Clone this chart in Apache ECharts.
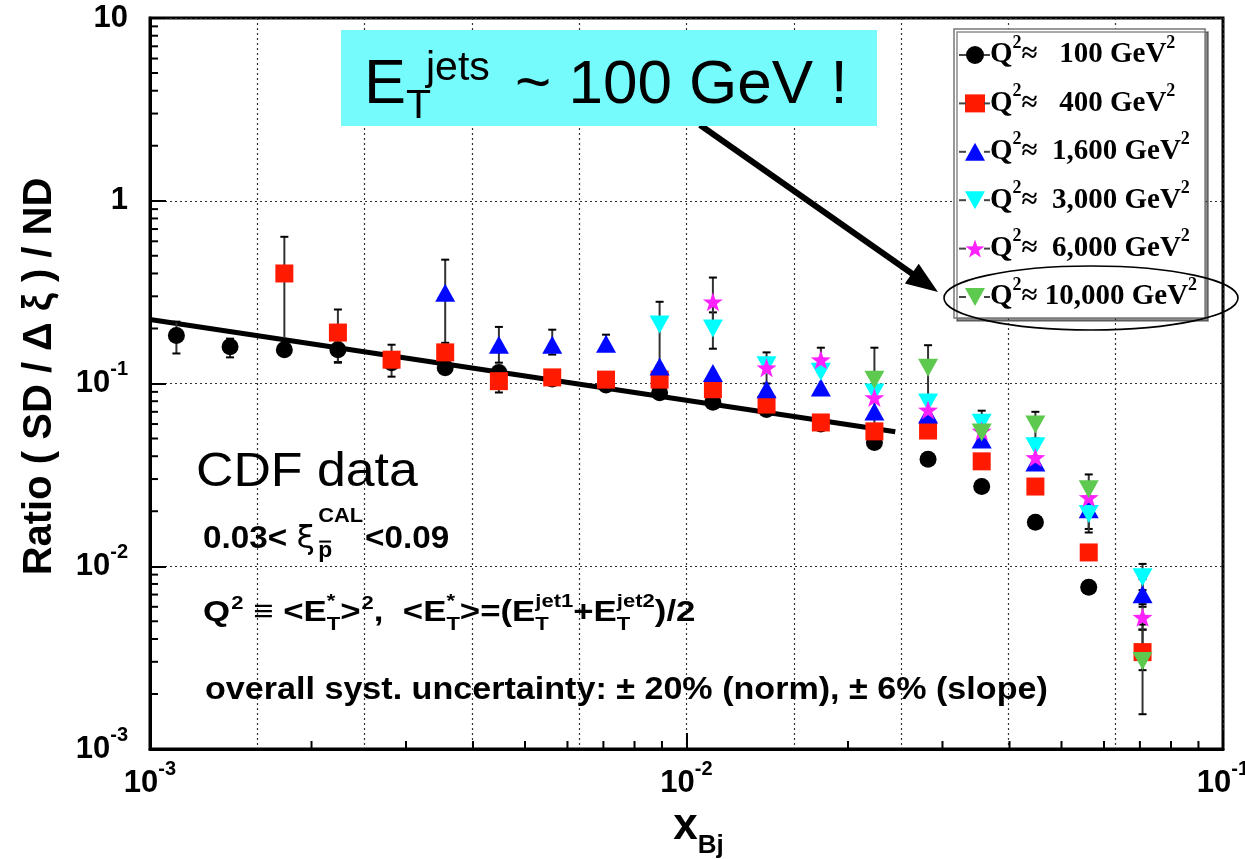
<!DOCTYPE html>
<html>
<head>
<meta charset="utf-8">
<title>CDF diffractive / non-diffractive ratio vs x_Bj</title>
<script src="https://cdn.jsdelivr.net/npm/echarts@6/dist/echarts.min.js"></script>
<style>
  html, body { margin: 0; padding: 0; background: #ffffff; }
  #chart { width: 1245px; height: 859px; }
</style>
</head>
<body>
<div id="chart"></div>
<script>
// ---- data -------------------------------------------------------------
const N = null;

// x_Bj bin centres (log-spaced, 0.1 decade)
const xBj = [0.00112, 0.00141, 0.00178, 0.00224, 0.00282, 0.00355, 0.00447, 0.00562, 0.00708, 0.00891,
             0.0112, 0.0141, 0.0178, 0.0224, 0.0282, 0.0355, 0.0447, 0.0562, 0.0708];

// Ratio SD/ND per Q^2 bin, with error bar bounds (null = no visible bar)
const ratioQ100   = [0.183, 0.159, 0.153, 0.153, 0.130, 0.122, 0.115, 0.106, 0.098, 0.089, 0.079, 0.072, 0.060, 0.0476, 0.0385, 0.0273, 0.0174, 0.00767, N];
const errLoQ100   = [0.146, 0.139, N, 0.131, N, N, N, N, N, N, N, N, N, N, N, N, N, N, N];
const errHiQ100   = [0.218, 0.176, N, 0.172, N, N, N, N, N, N, N, N, N, N, N, N, N, N, N];

const ratioQ400   = [N, N, 0.40, 0.190, 0.135, 0.148, 0.103, 0.108, 0.105, 0.105, 0.093, 0.0767, 0.0612, 0.0547, 0.0553, 0.0375, 0.0273, 0.0119, 0.00339];
const errLoQ400   = [N, N, 0.175, 0.130, 0.109, N, 0.0893, N, N, N, N, N, N, N, N, N, N, N, 0.0027];
const errHiQ400   = [N, N, 0.635, 0.254, 0.163, N, 0.115, N, N, N, N, N, N, N, N, N, N, N, 0.0045];

const ratioQ1600  = [N, N, N, N, N, 0.314, 0.163, 0.163, 0.165, 0.124, 0.114, 0.093, 0.095, 0.0703, 0.0677, 0.0494, 0.037, 0.0205, 0.00703];
const errLoQ1600  = [N, N, N, N, N, 0.167, 0.130, 0.144, 0.152, N, N, N, N, N, N, N, N, N, 0.0060];
const errHiQ1600  = [N, N, N, N, N, 0.476, 0.204, 0.197, 0.185, N, N, N, N, N, N, N, N, N, 0.0085];

const ratioQ3000  = [N, N, N, N, N, N, N, N, N, 0.21, 0.20, 0.126, 0.116, 0.0893, 0.0787, 0.061, 0.0453, 0.0193, 0.00871];
const errLoQ3000  = [N, N, N, N, N, N, N, N, N, 0.125, 0.155, 0.100, N, N, N, N, N, 0.016, 0.0074];
const errHiQ3000  = [N, N, N, N, N, N, N, N, N, 0.28, 0.245, 0.148, N, N, N, N, N, 0.0235, 0.0103];

const ratioQ6000  = [N, N, N, N, N, N, N, N, N, N, 0.28, 0.122, 0.135, 0.0838, 0.0717, 0.055, 0.0394, 0.0238, 0.00526];
const errLoQ6000  = [N, N, N, N, N, N, N, N, N, N, 0.21, N, 0.115, N, N, N, N, N, 0.0045];
const errHiQ6000  = [N, N, N, N, N, N, N, N, N, N, 0.38, N, 0.157, N, N, N, N, N, 0.0062];

const ratioQ10000 = [N, N, N, N, N, N, N, N, N, N, N, N, N, 0.105, 0.122, 0.054, 0.0597, 0.0264, 0.00303];
const errLoQ10000 = [N, N, N, N, N, N, N, N, N, N, N, N, N, 0.048, 0.066, 0.045, 0.050, 0.0153, 0.00155];
const errHiQ10000 = [N, N, N, N, N, N, N, N, N, N, N, N, N, 0.157, 0.162, 0.071, 0.070, 0.0318, 0.0048];

// power-law fit drawn through the low-Q^2 points
const fitX = [0.001, 0.0245];
const fitY = [0.224, 0.0545];

// legend labels
const seriesLabels = ['Q²≈   100 GeV²', 'Q²≈   400 GeV²', 'Q²≈  1,600 GeV²', 'Q²≈  3,000 GeV²', 'Q²≈  6,000 GeV²', 'Q²≈ 10,000 GeV²'];

// axis ranges and decade exponents
const xRange = [0.001, 0.1];
const yRange = [0.001, 10];
const xDecades = [-3, -2];
const yDecades = [-3, -2, -1, 0];
const minorMantissas = [2, 3, 4, 5, 6, 7, 8, 9];

// ---- styling ----------------------------------------------------------
const SANS = '"Liberation Sans", Arial, Helvetica, sans-serif';
const SERIF = '"Liberation Serif", "Times New Roman", serif';
const GREEK = '"DejaVu Sans", "Liberation Sans", sans-serif';

const TRI_UP = 'path://M5,0 L10,9 L0,9 Z';
const TRI_DOWN = 'path://M0,0 L10,0 L5,9 Z';
const STAR = 'path://M50,0 L61.76,33.82 L97.55,34.55 L69.02,56.18 L79.39,90.45 L50,70 L20.61,90.45 L30.98,56.18 L2.45,34.55 L38.24,33.82 Z';

const groups = [
  { label: seriesLabels[0], ratio: ratioQ100,   lo: errLoQ100,   hi: errHiQ100,   color: '#000000', symbol: 'circle', size: 17 },
  { label: seriesLabels[1], ratio: ratioQ400,   lo: errLoQ400,   hi: errHiQ400,   color: '#ff1a00', symbol: 'rect',   size: 18 },
  { label: seriesLabels[2], ratio: ratioQ1600,  lo: errLoQ1600,  hi: errHiQ1600,  color: '#0008ff', symbol: TRI_UP,   size: [20, 18] },
  { label: seriesLabels[3], ratio: ratioQ3000,  lo: errLoQ3000,  hi: errHiQ3000,  color: '#00ffff', symbol: TRI_DOWN, size: [20, 18] },
  { label: seriesLabels[4], ratio: ratioQ6000,  lo: errLoQ6000,  hi: errHiQ6000,  color: '#ff22ff', symbol: STAR,     size: [20, 19] },
  { label: seriesLabels[5], ratio: ratioQ10000, lo: errLoQ10000, hi: errHiQ10000, color: '#5dc94f', symbol: TRI_DOWN, size: [20, 18] }
];

// ---- helpers ----------------------------------------------------------
function errorBarItem(params, api) {
  const x = api.value(0);
  const p1 = api.coord([x, api.value(1)]);
  const p2 = api.coord([x, api.value(2)]);
  const cap = 4;
  return {
    type: 'group',
    children: [
      { type: 'line', shape: { x1: p1[0], y1: p1[1], x2: p2[0], y2: p2[1] }, style: { stroke: '#333', lineWidth: 2 } },
      { type: 'line', shape: { x1: p1[0] - cap, y1: p1[1], x2: p1[0] + cap, y2: p1[1] }, style: { stroke: '#000', lineWidth: 2 } },
      { type: 'line', shape: { x1: p2[0] - cap, y1: p2[1], x2: p2[0] + cap, y2: p2[1] }, style: { stroke: '#000', lineWidth: 2 } }
    ]
  };
}

function minorTickX(params, api) {
  const p = api.coord([api.value(0), api.value(1)]);
  return { type: 'line', shape: { x1: p[0], y1: p[1], x2: p[0], y2: p[1] - 8 }, style: { stroke: '#000', lineWidth: 2 } };
}
function minorTickY(params, api) {
  const p = api.coord([api.value(0), api.value(1)]);
  return { type: 'line', shape: { x1: p[0], y1: p[1], x2: p[0] + 8, y2: p[1] }, style: { stroke: '#000', lineWidth: 2 } };
}

const minorX = [];
xDecades.forEach(e => minorMantissas.forEach(m => minorX.push([m * Math.pow(10, e), yRange[0]])));
const minorY = [];
yDecades.forEach(e => minorMantissas.forEach(m => minorY.push([xRange[0], m * Math.pow(10, e)])));

function powerLabel(v) {
  const e = Math.round(Math.log10(v));
  if (e === 1) return '{b|10}';
  if (e === 0) return '{b|1}';
  return '{b|10}{s|' + e + '}';
}
const powerRich = {
  b: { fontSize: 31, fontWeight: 'bold', fontFamily: SANS, color: '#000', lineHeight: 48 },
  s: { fontSize: 20, fontWeight: 'bold', fontFamily: SANS, color: '#000', lineHeight: 20, verticalAlign: 'top' }
};

// text runs with sub/superscripts, laid out with canvas metrics;
// a run flagged "stack" shares its x position with the run that follows it
const measureCtx = document.createElement('canvas').getContext('2d');
function fontOf(r) { return (r.fw || 'bold') + ' ' + r.fs + 'px ' + (r.ff || SANS); }
function middleToBaseline(font) {
  measureCtx.font = font;
  measureCtx.textBaseline = 'alphabetic';
  const a = measureCtx.measureText('H').actualBoundingBoxAscent;
  measureCtx.textBaseline = 'middle';
  const m = measureCtx.measureText('H').actualBoundingBoxAscent;
  measureCtx.textBaseline = 'alphabetic';
  return a - m;
}
function textLine(x0, base, runs, scaleX, z) {
  const zz = z || 10;
  const children = [];
  let x = 0, held = 0, stackX = null;
  runs.forEach(r => {
    const font = fontOf(r);
    measureCtx.font = font;
    const w = measureCtx.measureText(r.t).width;
    const off = middleToBaseline(font);
    let bx;
    if (r.x !== undefined) bx = r.x - x0;
    else if (stackX !== null) bx = stackX;
    else bx = x + (r.dx || 0);
    const by = base + (r.dy || 0);
    children.push({
      type: 'text', z: zz, x: bx, y: by - off,
      style: { text: r.t, font: font, fill: '#000', align: 'left', verticalAlign: 'middle', textAlign: 'left', textVerticalAlign: 'middle' }
    });
    if (r.bar) {
      children.push({ type: 'rect', z: zz, shape: { x: bx + 1, y: by - r.fs * 0.52 - 5, width: w - 2, height: 2 }, style: { fill: '#000' } });
    }
    if (r.stack) { held = Math.max(held, w); stackX = bx; }
    else { x = bx + Math.max(held, w); held = 0; stackX = null; }
  });
  return { type: 'group', x: x0, y: 0, scaleX: scaleX || 1, originX: 0, originY: 0, z: zz, children: children };
}

// ---- series -----------------------------------------------------------
const series = [];

series.push({
  type: 'line', data: fitX.map((x, i) => [x, fitY[i]]), symbol: 'none', silent: true, z: 2,
  lineStyle: { color: '#000', width: 5 }, animation: false
});

groups.forEach(g => {
  const bars = [];
  const pts = [];
  xBj.forEach((x, i) => {
    if (g.lo[i] != null && g.hi[i] != null) bars.push([x, g.lo[i], g.hi[i]]);
    if (g.ratio[i] != null) pts.push([x, g.ratio[i]]);
  });
  series.push({
    type: 'custom', renderItem: errorBarItem, data: bars, silent: true, z: 3,
    encode: { x: 0, y: [1, 2] }, animation: false
  });
  series.push({
    type: 'scatter', name: g.label, data: pts, symbol: g.symbol, symbolSize: g.size,
    itemStyle: { color: g.color, opacity: 1 }, silent: true, z: 3, animation: false
  });
});

series.push({ type: 'custom', renderItem: minorTickX, data: minorX, silent: true, z: 5, clip: false, animation: false });
series.push({ type: 'custom', renderItem: minorTickY, data: minorY, silent: true, z: 5, clip: false, animation: false });

// ---- annotations ------------------------------------------------------
const legendRowY = [55, 103.4, 151.8, 200.2, 248.6, 297];
const legendBars = [];
legendRowY.forEach(y => {
  legendBars.push({ type: 'line', z: 12, shape: { x1: 959, y1: y, x2: 966, y2: y }, style: { stroke: '#444', lineWidth: 2 } });
  legendBars.push({ type: 'line', z: 12, shape: { x1: 984, y1: y, x2: 990, y2: y }, style: { stroke: '#444', lineWidth: 2 } });
});

const graphics = [
  // arrow from the banner to the highest-Q^2 legend entry
  { type: 'line', z: 9, shape: { x1: 700, y1: 125, x2: 914, y2: 275 }, style: { stroke: '#000', lineWidth: 6 } },
  { type: 'polygon', z: 9, shape: { points: [[938, 292], [904.9, 283.4], [918.7, 263.8]] }, style: { fill: '#000' } },
  // banner
  { type: 'rect', z: 10, shape: { x: 341, y: 30, width: 536, height: 96 }, style: { fill: '#76fbfc' } },
  textLine(364, 103, [
    { t: 'E', fs: 63, fw: 'normal', x: 364 },
    { t: 'T', fs: 41, fw: 'normal', x: 406, dy: 15 },
    { t: 'jets', fs: 41, fw: 'normal', x: 426, dy: -23 },
    { t: '~ 100 GeV !', fs: 62, fw: 'normal', x: 515 }
  ], 1, 11),
  // ellipse around the 10,000 GeV^2 entry
  { type: 'ellipse', z: 12, shape: { cx: 1091, cy: 298, rx: 147, ry: 32 }, style: { fill: 'none', stroke: '#000', lineWidth: 1.6 } },
  // in-plot notes
  textLine(196, 486, [{ t: 'CDF data', fs: 48, fw: 'normal' }], 1.08, 11),
  textLine(203, 548, [
    { t: '0.03< ', fs: 32 },
    { t: 'ξ', fs: 32, fw: 'normal', ff: GREEK },
    { t: 'CAL', fs: 21, dy: -26, dx: 3, stack: true },
    { t: 'p', fs: 22, dy: 9, bar: true },
    { t: '<0.09', fs: 32, dx: 2 }
  ], 1.04, 11),
  textLine(203, 621, [
    { t: 'Q', fs: 30 },
    { t: '2', fs: 19, dy: -12, dx: 1 },
    { t: ' ≡ <E', fs: 30 },
    { t: 'T', fs: 19, dy: 9, stack: true },
    { t: '*', fs: 19, dy: -14 },
    { t: '>', fs: 30 },
    { t: '2', fs: 19, dy: -12, dx: 1 },
    { t: ',  <E', fs: 30 },
    { t: 'T', fs: 19, dy: 9, stack: true },
    { t: '*', fs: 19, dy: -14 },
    { t: '>=(E', fs: 30 },
    { t: 'T', fs: 19, dy: 9, stack: true },
    { t: 'jet1', fs: 19, dy: -14 },
    { t: '+E', fs: 30 },
    { t: 'T', fs: 19, dy: 9, stack: true },
    { t: 'jet2', fs: 19, dy: -14 },
    { t: ')/2', fs: 30 }
  ], 1.16, 11),
  textLine(205, 699, [{ t: 'overall syst. uncertainty: ± 20% (norm), ± 6% (slope)', fs: 31 }], 1.1, 11)
].concat(legendBars);

// ---- chart ------------------------------------------------------------
const chart = echarts.init(document.getElementById('chart'), null, { renderer: 'canvas', width: 1245, height: 859 });

chart.setOption({
  animation: false,
  backgroundColor: '#ffffff',
  grid: {
    left: 150, top: 18, width: 1073, height: 731,
    show: true, borderColor: '#000', borderWidth: 3, backgroundColor: 'transparent',
    containLabel: false, outerBoundsMode: 'none'
  },
  xAxis: [
    {
      type: 'log', logBase: 10, min: xRange[0], max: xRange[1], position: 'bottom',
      axisLine: { show: true, onZero: false, lineStyle: { color: '#000', width: 3 } },
      axisTick: { show: true, inside: true, length: 16, lineStyle: { color: '#000', width: 2 } },
      minorTick: { show: false },
      splitLine: { show: false },
      axisLabel: { show: true, margin: 10, formatter: powerLabel, rich: powerRich, color: '#000', hideOverlap: false,
                   showMinLabel: true, showMaxLabel: true },
      name: '{x|x}{s|Bj}', nameLocation: 'middle', nameGap: 46, nameMoveOverlap: false,
      nameTextStyle: {
        padding: [0, 0, 0, 24],
        rich: {
          x: { fontSize: 44, fontWeight: 'bold', fontFamily: SANS, color: '#000', lineHeight: 64 },
          s: { fontSize: 26, fontWeight: 'bold', fontFamily: SANS, color: '#000', lineHeight: 26, verticalAlign: 'bottom' }
        }
      }
    },
    {
      // 0.2-decade vertical grid, in log10(x) units
      type: 'value', min: -3, max: -1, interval: 0.2, position: 'bottom', show: true,
      axisLine: { show: false }, axisTick: { show: false }, axisLabel: { show: false },
      splitLine: { show: true, lineStyle: { color: '#333', width: 1.2, type: [2, 3] } }
    }
  ],
  yAxis: {
    type: 'log', logBase: 10, min: yRange[0], max: yRange[1],
    axisLine: { show: true, onZero: false, lineStyle: { color: '#000', width: 3 } },
    axisTick: { show: true, inside: true, length: 16, lineStyle: { color: '#000', width: 2 } },
    minorTick: { show: false },
    splitLine: { show: true, lineStyle: { color: '#333', width: 1.2, type: [2, 3] } },
    axisLabel: { show: true, margin: 22, formatter: powerLabel, rich: powerRich, color: '#000', hideOverlap: false,
                 showMinLabel: true, showMaxLabel: true },
    name: 'Ratio ( SD / Δ ξ ) / ND', nameLocation: 'middle', nameRotate: 90, nameGap: 90, nameMoveOverlap: false,
    nameTextStyle: { fontSize: 40, fontWeight: 'bold', fontFamily: SANS, color: '#000', padding: [0, 0, 0, 14] }
  },
  legend: {
    show: true, left: 954, top: 29, orient: 'vertical', z: 8,
    data: seriesLabels, selectedMode: false,
    itemWidth: 20, itemHeight: 18, itemGap: 6.4,
    padding: [5, 8, 0, 11],
    backgroundColor: '#ffffff', borderColor: '#777', borderWidth: 1.5,
    shadowColor: 'rgba(0,0,0,0.45)', shadowOffsetX: 3, shadowOffsetY: 3, shadowBlur: 0,
    formatter: function (name) {
      return name.split('²').map((part, i, arr) => (part ? '{t|' + part + '}' : '') + (i < arr.length - 1 ? '{s|2}' : '')).join('');
    },
    textStyle: {
      fontFamily: SERIF, fontWeight: 'bold', fontSize: 29, color: '#000', lineHeight: 42,
      rich: {
        t: { fontFamily: SERIF, fontWeight: 'bold', fontSize: 29, color: '#000', lineHeight: 42 },
        s: { fontFamily: SERIF, fontWeight: 'bold', fontSize: 18, color: '#000', lineHeight: 17, verticalAlign: 'top' }
      }
    }
  },
  tooltip: { show: false },
  series: series,
  graphic: { elements: graphics }
});
</script>
</body>
</html>
